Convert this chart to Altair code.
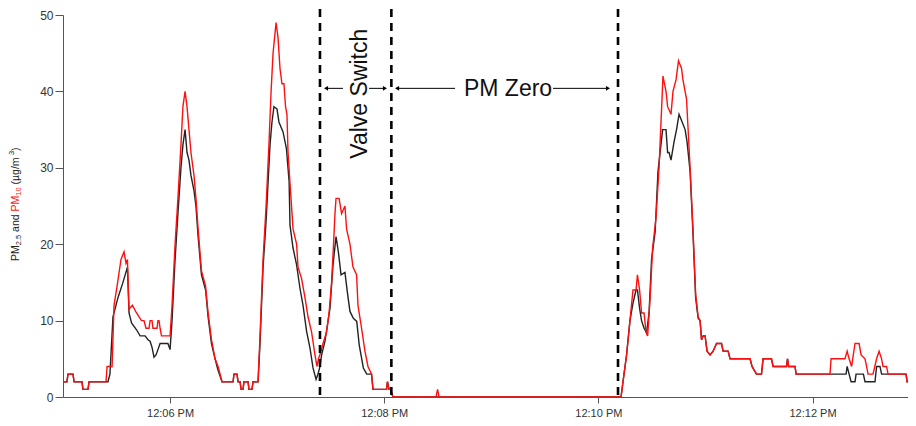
import altair as alt
import pandas as pd

# time = elapsed seconds since 12:05:00 PM
pm10_t = [0.0, 2.2, 2.8, 5.6, 6.2, 10.6, 11.2, 14.0, 14.6, 24.1, 24.7, 27.5, 28.6, 30.3, 32.5, 34.2, 35.3, 36.1,
          37.0, 38.9, 41.2, 44.0, 45.4, 46.5, 48.2, 48.8, 49.9, 50.4, 52.7, 53.2, 53.8, 54.4, 55.2, 60.0, 61.1,
          62.8, 64.4, 66.1, 67.2, 68.4, 69.5, 70.6, 71.7, 73.4, 74.5, 75.7, 77.6, 79.9, 81.3, 83.2, 85.2, 86.9,
          89.1, 95.3, 95.8, 97.5, 98.1, 99.2, 99.8, 100.9, 101.4, 103.7, 104.2, 105.9, 106.5, 109.3, 110.4, 112.1,
          113.8, 115.4, 116.6, 117.7, 119.4, 120.5, 121.6, 122.7, 123.8, 124.7, 125.5, 126.1, 127.2, 128.9, 130.9,
          131.7, 133.7, 135.6, 137.3, 139.3, 141.2, 142.3, 143.2, 144.6, 145.7, 147.7, 149.1, 150.5, 151.6, 152.4,
          153.0, 154.7, 156.1, 158.0, 158.9, 160.8, 162.5, 164.5, 165.3, 167.3, 169.2, 170.9, 172.9, 173.7, 181.3,
          181.8, 182.7, 183.5, 184.9, 209.0, 209.9, 210.7, 312.7, 313.8, 315.8, 317.7, 319.4, 321.1, 321.9, 323.1,
          324.2, 325.6, 326.7, 327.6, 329.0, 330.4, 332.3, 334.0, 336.2, 337.9, 338.8, 340.7, 341.8, 343.5, 344.9,
          346.6, 347.4, 349.4, 351.4, 353.1, 354.5, 355.9, 357.0, 357.8, 358.7, 359.8, 360.9, 362.6, 364.3, 366.2,
          369.0, 369.9, 372.7, 373.8, 385.0, 386.1, 388.6, 391.4, 392.3, 397.0, 397.9, 405.4, 406.0, 406.6, 410.2,
          410.8, 429.8, 430.4, 438.2, 439.4, 440.5, 441.9, 443.8, 446.1, 447.2, 449.4, 450.3, 451.1, 453.9, 455.9,
          457.3, 458.7, 459.5, 461.5, 462.3, 472.4, 473.0, 474.4, 475.2, 476.3, 478.0]
pm10_v = [2, 2, 3, 3, 2, 2, 1, 1, 2, 2, 4, 4, 12, 14.5, 18, 19, 17.5, 18,
          11.5, 12, 11, 10, 10, 9, 9, 10, 10, 9, 9, 10, 10, 9, 8, 8, 12,
          20, 26, 33, 38, 40, 38, 35, 32, 29, 26, 22, 16.5, 14.5, 11, 7.5, 5, 4,
          2, 2, 3, 3, 2, 2, 1, 1, 2, 2, 1, 1, 2, 2, 8, 18,
          25, 33, 40, 45, 49, 47, 43, 41, 41, 38, 37, 32, 28, 22, 20,
          17, 15.5, 13, 10.5, 8.5, 5.5, 4, 5, 6, 7, 8.5, 11, 15, 20, 24,
          26, 26, 24, 25, 22, 20, 17, 16, 12, 9, 6, 4, 3, 1, 1,
          2, 1, 1, 0, 0, 1, 0, 0, 2, 5.5, 10, 14, 14, 16, 14,
          11, 11, 8.5, 8, 13, 19.5, 23.5, 30, 42, 40, 38, 37, 40, 41.5, 44,
          43, 41.5, 39, 30, 21.5, 13.5, 10.5, 10, 7.5, 8, 8, 6, 5.5, 6, 7,
          7, 6, 6, 5, 5, 4, 3, 3, 5, 5, 4, 4, 5, 4, 4,
          3, 3, 5, 5, 6, 5, 4, 7, 7, 5.5, 5, 4, 3, 3, 5,
          6, 5, 4, 4, 3, 3, 2, 2, 3, 4, 3]

pm25_t = [0.0, 2.2, 2.8, 5.6, 6.2, 10.6, 11.2, 14.0, 14.6, 25.2, 26.3, 28.0, 30.8, 33.6, 36.1, 37.0, 38.4, 41.2,
          43.2, 46.0, 47.6, 48.8, 49.9, 51.0, 52.1, 53.2, 54.4, 58.8, 60.0, 61.1, 62.8, 64.4, 66.1, 67.2, 68.4,
          69.5, 70.6, 71.7, 73.4, 74.5, 75.7, 77.6, 79.9, 81.3, 83.2, 85.2, 86.9, 89.1, 95.3, 95.8, 97.5, 98.1,
          99.2, 99.8, 100.9, 101.4, 103.7, 104.2, 105.9, 106.5, 109.3, 110.4, 112.1, 113.8, 114.9, 116.0, 117.1,
          118.2, 119.9, 121.0, 123.3, 125.2, 126.7, 127.2, 128.9, 130.9, 132.8, 134.5, 136.5, 138.4, 140.1, 141.8,
          142.9, 144.0, 144.9, 146.8, 149.6, 151.3, 153.0, 154.3, 155.8, 158.0, 159.3, 160.8, 162.7, 164.6, 166.0,
          168.3, 170.2, 172.9, 173.7, 181.3, 181.8, 182.7, 183.5, 184.9, 312.7, 313.8, 315.8, 317.7, 319.4, 321.1,
          321.9, 323.1, 324.2, 325.6, 327.0, 328.4, 329.8, 331.8, 333.4, 336.0, 337.9, 338.8, 339.6, 340.7, 342.4,
          343.8, 345.2, 346.6, 348.6, 349.7, 351.4, 353.1, 354.5, 355.9, 357.0, 357.8, 358.7, 359.8, 360.9, 362.6,
          364.3, 366.2, 369.0, 369.9, 372.7, 373.8, 385.0, 386.1, 388.6, 391.4, 392.3, 397.0, 397.9, 405.4, 406.0,
          406.6, 410.2, 410.8, 438.8, 439.4, 440.5, 441.6, 443.8, 444.4, 448.5, 449.4, 455.0, 455.9, 457.8, 458.7,
          472.4, 473.0, 474.4, 475.2, 476.3, 478.0]
pm25_v = [2, 2, 3, 3, 2, 2, 1, 1, 2, 2, 3, 10.5, 13, 15, 17, 11, 9.7, 8.8,
          8, 8, 7.5, 7.3, 6.5, 5.2, 5.5, 6.2, 7, 7, 6.2, 10, 18, 24, 30, 33, 35,
          32, 31, 29, 27, 25, 21, 16, 14, 10.5, 7, 5, 3.5, 2, 2, 3, 3, 2,
          2, 1, 1, 2, 2, 1, 1, 2, 2, 7, 17, 23, 28, 33, 36,
          38, 37.7, 36, 34.7, 32.5, 28.2, 22.5, 19.5, 17.3, 14.2, 12, 8.6, 6.4, 3.8, 2.3,
          3, 4, 5.5, 7.3, 11.6, 17.3, 21, 19, 16, 16.3, 13.8, 11.2, 10.3, 9.9, 6.8,
          3.8, 3, 3, 1, 1, 2, 1, 1, 0, 0, 2, 5.5, 10, 12.3, 14,
          14, 11.6, 10, 9, 8.4, 11, 18, 21.6, 29.5, 35, 35, 32, 32, 31, 33.4,
          35, 37, 36.2, 35, 33.4, 29.5, 21, 13, 10.3, 10, 7.5, 8, 8, 6, 5.5,
          6, 7, 7, 6, 6, 5, 5, 4, 3, 3, 5, 5, 4, 4, 5,
          4, 4, 3, 3, 4, 3, 2, 2, 3, 3, 2, 2, 4, 4, 3,
          3, 2, 2, 3, 4, 3]

event_t = [144, 184, 311]          # 12:07:24 valve switch, 12:08:04 / 12:10:11 PM zero
tick_t = [60, 180, 300, 420]       # 12:06, 12:08, 12:10, 12:12
y_ticks = [0, 10, 20, 30, 40, 50]

arrow_from = [156.9, 171.5, 219.7, 274.6]
arrow_to = [147.4, 180.4, 187.2, 305.4]
arrow_dir = ["triangle-left", "triangle-right", "triangle-left", "triangle-right"]
arrow_level = 40.4

FONT = "Liberation Sans"
W, H = 845, 382
xs = alt.Scale(domain=[0, 473.5], nice=False, zero=False)
ys = alt.Scale(domain=[0, 50], nice=False)

pm10 = pd.DataFrame({"t": pm10_t, "v": pm10_v})
pm25 = pd.DataFrame({"t": pm25_t, "v": pm25_v})
events = pd.DataFrame({"t": event_t})
arrows = pd.DataFrame({"t": arrow_from, "t2": arrow_to, "shape": arrow_dir, "y": [arrow_level] * 4})

xaxis = alt.Axis(values=tick_t, labelExpr="'12:' + format(5 + datum.value/60, '02d') + ' PM'",
                 tickSize=6, labelPadding=4, labelFontSize=11, title=None, grid=False,
                 domainColor="#555", tickColor="#555", labelColor="#333", labelFont=FONT)
yaxis = alt.Axis(values=y_ticks, tickSize=8, labelPadding=2, labelFontSize=12, title=None, grid=False,
                 domainColor="#555", tickColor="#555", labelColor="#333", labelFont=FONT)

black_line = alt.Chart(pm25).mark_line(color="#222222", strokeWidth=1.4, clip=True).encode(
    x=alt.X("t:Q", scale=xs, axis=xaxis), y=alt.Y("v:Q", scale=ys, axis=yaxis))
red_line = alt.Chart(pm10).mark_line(color="#ff1010", strokeWidth=1.4, clip=True).encode(
    x=alt.X("t:Q", scale=xs), y=alt.Y("v:Q", scale=ys))

rules = alt.Chart(events).mark_rule(color="black", strokeWidth=2.6, strokeDash=[8, 6]).encode(
    x=alt.X("t:Q", scale=xs), y=alt.value(-6), y2=alt.value(H))

arrow_lines = alt.Chart(arrows).mark_rule(color="black", strokeWidth=1).encode(
    x=alt.X("t:Q", scale=xs), x2="t2:Q", y=alt.Y("y:Q", scale=ys))
arrow_heads = alt.Chart(arrows).mark_point(filled=True, color="black", size=22, opacity=1).encode(
    x=alt.X("t2:Q", scale=xs), y=alt.Y("y:Q", scale=ys), shape=alt.Shape("shape:N", scale=None))

valve_txt = alt.Chart(alt.Data(values=[{}])).mark_text(
    text="Valve Switch", angle=270, align="center", baseline="alphabetic", fontSize=23, font=FONT,
    color="#111").encode(x=alt.X(datum=170.4, scale=xs), y=alt.Y(datum=39.7, scale=ys))
zero_txt = alt.Chart(alt.Data(values=[{}])).mark_text(
    text="PM Zero", align="center", baseline="alphabetic", fontSize=23, font=FONT,
    color="#111").encode(x=alt.X(datum=249.4, scale=xs), y=alt.Y(datum=39.4, scale=ys))

# rich y-axis title built from pieces: (text, colour, size, x, y)
title_pieces = [
    ("PM", "#222", 10.5, -47, 246),
    ("2.5", "#222", 7.5, -44, 230.25),
    ("and", "#222", 10.5, -47, 216.9),
    ("PM", "#ff1010", 10.5, -47, 196.5),
    ("10", "#ff1010", 7.5, -44, 180.7),
    ("(µg/m", "#222", 10.5, -47, 169.5),
    ("3", "#222", 7.5, -51, 140.1),
    (")", "#222", 10.5, -47, 135.9),
]
title_layers = []
for txt, col, fs, px, py in title_pieces:
    title_layers.append(
        alt.Chart(alt.Data(values=[{}])).mark_text(
            text=txt, angle=270, align="left", baseline="middle", fontSize=fs, font=FONT, color=col
        ).encode(x=alt.value(px), y=alt.value(py))
    )

chart = alt.layer(black_line, red_line, rules, arrow_lines, arrow_heads, valve_txt, zero_txt,
                  *title_layers).properties(
    width=W, height=H, autosize="none",
    padding={"left": 55, "top": 7, "right": 0, "bottom": 20},
).configure_view(stroke=None).configure_axis(grid=False)

chart.save("out.html", embed_options={"renderer": "svg", "actions": False})
